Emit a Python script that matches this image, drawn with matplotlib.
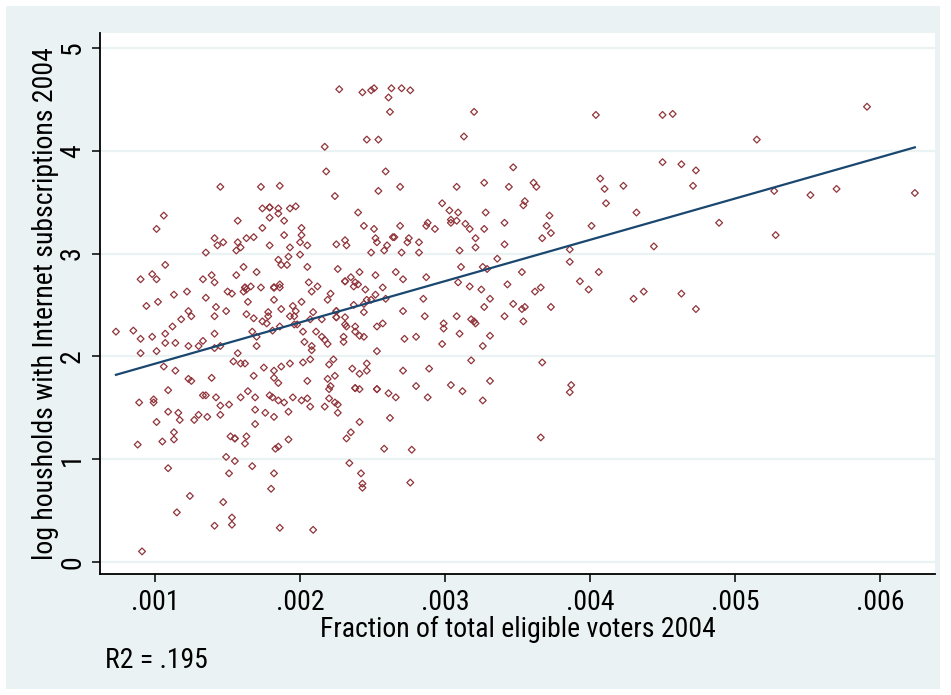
import numpy as np
import matplotlib
matplotlib.use("Agg")
import matplotlib.pyplot as plt
from matplotlib import font_manager as fm
from matplotlib.patches import Rectangle

# ---------------- data (x in units of 1/1000) ----------------
x_milli = [
    1.45, 1.73, 1.86, 1.06, 1.57, 1.74, 1.79, 1.79, 1.85, 1.85, 1.79, 1.89, 1.93, 1.97, 1.01, 1.74, 2.01,
    2.27, 2.43, 2.49, 2.51, 2.63, 2.70, 2.76, 2.61, 2.62, 3.20, 3.13, 2.46, 2.54, 2.17, 2.18, 2.59, 3.47,
    3.27, 3.44, 2.69, 3.08, 2.24, 2.54, 2.98, 2.40, 3.03, 3.09, 3.28, 2.44, 2.51, 2.69, 2.88, 2.87, 2.93,
    3.04, 3.04, 3.08, 3.14, 3.17, 3.27, 3.41,
    4.04, 4.50, 4.57, 4.50, 4.63, 4.73, 3.61, 3.63, 4.07, 4.10, 4.23, 4.71, 3.55, 3.54, 4.11, 4.32, 3.72,
    3.70, 4.01, 4.89,
    5.91, 5.15, 5.27, 5.52, 5.70, 6.24, 5.28,
    3.67, 3.73, 4.44, 3.86, 3.86, 3.53, 4.06, 3.93, 3.99, 3.62, 3.66, 4.37, 4.30, 4.63, 4.73, 3.47, 3.53,
    3.55, 3.73, 3.54, 3.67, 3.87, 3.86, 3.66,
    2.05, 2.25, 2.31, 2.32, 2.52, 2.53, 2.64, 2.65, 2.74, 2.75, 2.82, 2.60, 2.58, 2.49, 2.70, 2.82, 3.10,
    3.21, 3.21, 3.41, 3.36, 2.05, 2.26, 2.41, 2.66, 2.52, 2.71, 2.87, 3.11, 3.26, 3.29, 2.06, 2.12, 2.31,
    2.31, 2.35, 2.38, 2.37, 2.40, 2.45, 2.57, 2.08, 2.21, 2.19, 2.52, 2.46, 2.49, 2.59, 2.37, 2.44, 2.44,
    3.09, 3.17, 3.25, 3.43, 3.31, 3.27, 2.85, 2.71, 2.86, 3.08, 3.41, 2.09, 2.07, 2.15, 2.25, 2.25, 2.25,
    2.25, 2.31, 2.31, 2.32, 2.38, 2.38, 2.41, 2.44, 2.57, 2.53, 2.11, 2.15, 2.17, 2.19, 2.30, 2.30, 2.08,
    2.08, 2.72, 2.80, 2.99, 2.99, 3.10, 3.18, 3.20, 3.21, 3.31, 2.98, 3.26, 2.53, 2.07, 2.23, 2.20, 2.46,
    2.46, 2.36, 2.41, 2.24, 2.19, 2.05, 2.21, 2.20, 2.38, 2.38, 2.41, 2.53, 2.53, 2.71, 2.89, 3.18, 3.31,
    3.04, 2.80, 3.12, 2.61, 2.66, 2.88, 3.26, 2.05, 2.07, 2.17, 2.20, 2.24, 2.26, 2.26, 2.41, 2.62,
    2.35, 2.32, 2.58, 2.77, 2.34, 2.42, 2.43, 2.43, 2.76, 2.09,
    1.01, 1.17, 1.27, 1.69, 1.13, 0.88, 1.05, 1.13, 1.52, 1.55, 1.55, 1.63, 1.62, 1.92, 1.85, 1.83, 1.49,
    1.55, 1.09, 1.51, 1.67, 1.82, 1.80, 1.24, 1.47, 1.15, 1.53, 1.53, 1.41, 1.86, 0.91,
    1.89, 2.01, 1.41, 1.43, 1.47, 1.57, 1.56, 1.59, 1.63, 1.68, 1.79, 1.93, 2.00, 1.92, 2.00, 1.35, 1.07,
    1.85, 1.87, 1.91, 1.61, 1.70, 0.90, 0.98, 1.01, 1.33, 1.39, 1.41, 1.56, 1.62, 1.62, 1.66, 1.61, 1.63,
    1.50, 1.53, 1.73, 1.82, 1.82, 1.82, 1.86, 1.86, 1.82, 1.22, 1.13, 1.35, 1.02, 0.94, 1.42, 1.49, 1.64,
    1.63, 1.68, 1.78, 1.78, 1.74, 1.87, 1.95, 2.01, 1.97, 1.93, 1.96, 1.23, 1.25, 1.18, 1.41, 1.77, 1.81,
    1.86, 1.96, 1.98, 1.12, 0.73, 0.85, 1.07, 0.98, 0.90, 1.41, 1.67, 1.70, 2.02, 2.03, 1.07, 1.14, 1.33,
    1.30, 1.23, 1.41, 1.45, 1.70, 0.90, 1.01, 1.57, 1.54, 1.59, 1.62, 1.06, 1.14, 1.75, 1.82, 1.87, 1.93,
    2.02, 1.68, 1.82, 1.85, 1.23, 1.25, 1.39, 1.09, 1.64, 1.33, 1.35, 1.42, 1.59, 1.69, 1.79, 1.81, 1.95,
    0.89, 0.99, 0.99, 1.45, 1.51, 1.85, 1.89, 2.01, 1.09, 1.16, 1.69, 1.92, 1.30, 1.36, 1.45, 1.76, 1.82,
]
log_households = [
    3.65, 3.65, 3.66, 3.37, 3.32, 3.44, 3.45, 3.45, 3.44, 3.39, 3.35, 3.32, 3.44, 3.46, 3.24, 3.25, 3.25,
    4.60, 4.57, 4.59, 4.61, 4.61, 4.61, 4.59, 4.52, 4.38, 4.38, 4.14, 4.11, 4.11, 4.04, 3.80, 3.80, 3.84,
    3.69, 3.65, 3.65, 3.65, 3.56, 3.61, 3.49, 3.40, 3.42, 3.40, 3.40, 3.27, 3.24, 3.27, 3.30, 3.27, 3.24,
    3.33, 3.30, 3.32, 3.29, 3.24, 3.24, 3.30,
    4.35, 4.35, 4.36, 3.89, 3.87, 3.81, 3.69, 3.65, 3.73, 3.63, 3.66, 3.66, 3.51, 3.47, 3.49, 3.40, 3.37,
    3.27, 3.27, 3.30,
    4.43, 4.11, 3.61, 3.57, 3.63, 3.59, 3.18,
    3.15, 3.20, 3.07, 3.04, 2.92, 2.82, 2.82, 2.73, 2.65, 2.63, 2.67, 2.63, 2.56, 2.61, 2.46, 2.51, 2.46,
    2.48, 2.48, 2.34, 1.94, 1.72, 1.65, 1.21,
    3.08, 3.09, 3.13, 3.08, 3.15, 3.11, 3.16, 3.16, 3.11, 3.15, 3.11, 3.08, 3.03, 3.01, 3.01, 3.01, 3.03,
    3.15, 3.06, 3.09, 2.95, 2.87, 2.85, 2.82, 2.82, 2.79, 2.75, 2.77, 2.87, 2.87, 2.85, 2.72, 2.68, 2.73,
    2.73, 2.77, 2.72, 2.68, 2.70, 2.65, 2.67, 2.63, 2.61, 2.55, 2.60, 2.55, 2.55, 2.56, 2.50, 2.51, 2.43,
    2.72, 2.68, 2.65, 2.70, 2.56, 2.48, 2.56, 2.44, 2.39, 2.39, 2.39, 2.43, 2.36, 2.36, 2.44, 2.44, 2.38,
    2.38, 2.38, 2.31, 2.29, 2.29, 2.24, 2.20, 2.19, 2.32, 2.29, 2.24, 2.19, 2.16, 2.12, 2.19, 2.14, 2.10,
    2.06, 2.17, 2.19, 2.32, 2.27, 2.22, 2.36, 2.34, 2.32, 2.20, 2.12, 2.10, 2.05, 1.97, 1.97, 1.92, 1.93,
    1.86, 1.88, 1.83, 1.81, 1.78, 1.76, 1.71, 1.68, 1.69, 1.69, 1.68, 1.68, 1.68, 1.86, 1.88, 1.96, 1.76,
    1.72, 1.71, 1.66, 1.64, 1.60, 1.60, 1.57, 1.59, 1.51, 1.51, 1.59, 1.55, 1.53, 1.45, 1.36, 1.40,
    1.26, 1.20, 1.10, 1.09, 0.96, 0.86, 0.76, 0.72, 0.77, 0.31,
    1.36, 1.38, 1.38, 1.34, 1.26, 1.14, 1.17, 1.19, 1.22, 1.20, 1.20, 1.22, 1.15, 1.19, 1.12, 1.10, 1.02,
    0.98, 0.91, 0.86, 0.93, 0.86, 0.71, 0.64, 0.58, 0.48, 0.43, 0.36, 0.35, 0.33, 0.10,
    3.18, 3.18, 3.15, 3.08, 3.11, 3.11, 3.03, 3.06, 3.15, 3.16, 3.08, 3.06, 3.11, 2.97, 2.99, 3.01, 2.89,
    2.94, 2.89, 2.89, 2.87, 2.82, 2.75, 2.80, 2.75, 2.75, 2.79, 2.72, 2.79, 2.67, 2.67, 2.68, 2.63, 2.65,
    2.63, 2.61, 2.67, 2.67, 2.67, 2.67, 2.70, 2.67, 2.55, 2.63, 2.60, 2.57, 2.53, 2.49, 2.48, 2.44, 2.53,
    2.41, 2.37, 2.43, 2.39, 2.34, 2.46, 2.49, 2.53, 2.44, 2.39, 2.39, 2.44, 2.39, 2.36, 2.39, 2.32, 2.25,
    2.29, 2.31, 2.31, 2.29, 2.24, 2.25, 2.22, 2.19, 2.17, 2.22, 2.24, 2.19, 2.24, 2.14, 2.13, 2.13, 2.15,
    2.10, 2.10, 2.08, 2.10, 2.10, 2.03, 2.05, 2.03, 1.95, 1.93, 1.93, 1.90, 1.86, 1.89, 1.86, 1.90, 1.93,
    1.94, 1.81, 1.79, 1.74, 1.78, 1.76, 1.79, 1.67, 1.66, 1.62, 1.62, 1.60, 1.60, 1.60, 1.62, 1.60, 1.60,
    1.55, 1.58, 1.55, 1.52, 1.53, 1.57, 1.55, 1.57, 1.46, 1.45, 1.48, 1.46, 1.43, 1.41, 1.43, 1.45, 1.41,
]
x_ticks = [0.001, 0.002, 0.003, 0.004, 0.005, 0.006]
x_tick_labels = [".001", ".002", ".003", ".004", ".005", ".006"]
y_ticks = [0, 1, 2, 3, 4, 5]
r2_text = "R2 = .195"

# ---------------- style ----------------
names = {f.name for f in fm.fontManager.ttflist}
family = None
for cand in ["Liberation Sans Narrow", "Arial Narrow", "Roboto Condensed", "Open Sans Condensed",
             "DejaVu Sans Condensed", "Liberation Sans"]:
    if cand in names:
        family = cand
        break
plt.rcParams["font.family"] = [family, "DejaVu Sans"] if family else ["DejaVu Sans"]

bg = "#eaf2f3"
maroon = "#90353b"
navy = "#1a476f"
fs = 20

x = np.array(x_milli) / 1000.0
y = np.array(log_households)

W, H = 951, 695
fig = plt.figure(figsize=(W / 100, H / 100), dpi=100)
fig.patch.set_facecolor("white")
fig.patches.append(Rectangle((6 / W, 6 / H), 934 / W, 683 / H, transform=fig.transFigure,
                             facecolor=bg, edgecolor="none", zorder=-10))

ax = fig.add_axes([100 / W, 1 - 574 / H, 835 / W, 541 / H])
ax.set_facecolor("white")

ax.set_xlim(0.00062, 0.006379)
ax.set_ylim(-0.12, 5.148)

for t in y_ticks:
    ax.axhline(t, color=bg, lw=1.6, zorder=0)

ax.scatter(x, y, marker="D", s=12, facecolors="none", edgecolors=maroon,
           linewidths=0.9, zorder=3)

coef = np.polyfit(x, y, 1)
xf = np.array([x.min(), x.max()])
ax.plot(xf, np.polyval(coef, xf), color=navy, lw=1.6, zorder=4)

for s in ["top", "right"]:
    ax.spines[s].set_visible(False)
for s in ["left", "bottom"]:
    ax.spines[s].set_color("black")
    ax.spines[s].set_linewidth(1.3)

ax.set_xticks(x_ticks)
ax.set_xticklabels(x_tick_labels)
ax.set_yticks(y_ticks)
ax.set_yticklabels([str(t) for t in y_ticks])
ax.tick_params(axis="both", direction="out", length=6, width=1.1, color="black",
               labelsize=fs, labelcolor="black")
ax.tick_params(axis="x", pad=5)
ax.tick_params(axis="y", pad=4)
for lbl in ax.get_yticklabels():
    lbl.set_rotation(90)
    lbl.set_va("center")

ax.set_xlabel("Fraction of total eligible voters 2004", fontsize=fs, labelpad=0)
ax.set_ylabel("log housholds with Internet subscriptions 2004", fontsize=fs, labelpad=0)

fig.text(105 / W, 1 - 661 / H, r2_text, fontsize=fs, ha="left", va="center")

fig.savefig("out.png", dpi=100, facecolor=fig.get_facecolor())
